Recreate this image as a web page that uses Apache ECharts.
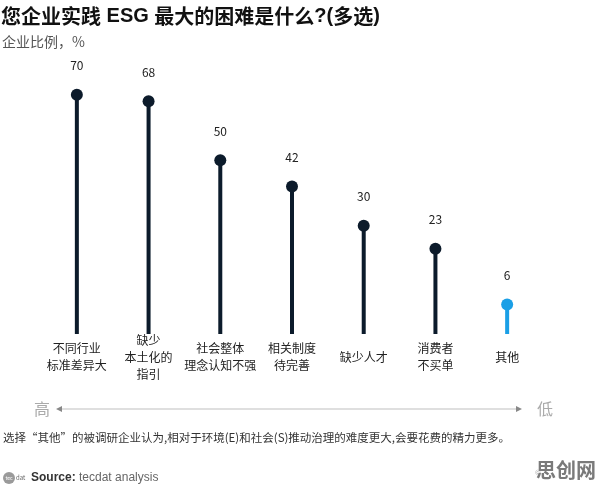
<!DOCTYPE html>
<html><head><meta charset="utf-8">
<script src="https://cdn.jsdelivr.net/npm/echarts@6/dist/echarts.min.js"></script>
<style>html,body{margin:0;padding:0;background:#fff}#c{width:596px;height:487px}</style>
</head><body><div id="c"></div>
<script>
var categories = ['不同行业\n标准差异大', '缺少\n本土化的\n指引', '社会整体\n理念认知不强', '相关制度\n待完善', '缺少人才', '消费者\n不买单', '其他'];
var values = [70, 68, 50, 42, 30, 23, 6];
var highlightIndex = 6;

var dark = '#0c1b2b', blue = '#1a9fe6';
var FONT = '"Noto Sans CJK SC","Liberation Sans",Arial,sans-serif';
var LAT = '"Liberation Sans",Arial,sans-serif';
var chart = echarts.init(document.getElementById('c'));
var AXIS_MIN = -3;

chart.setOption({
  backgroundColor: '#fff',
  animation: false,
  grid: {left: 41, right: 53, top: 3, bottom: 153},
  xAxis: {
    type: 'category', data: categories,
    axisLine: {show: false}, axisTick: {show: false},
    axisLabel: {fontFamily: FONT, fontSize: 12, color: '#222', lineHeight: 17, margin: 23,
      verticalAlign: 'middle', interval: 0}
  },
  yAxis: {type: 'value', min: AXIS_MIN, max: 98, show: false, splitLine: {show: false}},
  series: [
    {
      type: 'custom',
      data: values.map(function (v, i) { return [i, v]; }),
      renderItem: function (params, api) {
        var i = api.value(0), v = api.value(1);
        var top = api.coord([i, v]);
        var bot = api.coord([i, AXIS_MIN]);
        return {type: 'line', shape: {x1: top[0], y1: top[1], x2: bot[0], y2: bot[1]},
          style: {stroke: i === highlightIndex ? blue : dark, lineWidth: 4}};
      },
      z: 1
    },
    {
      type: 'scatter',
      symbolSize: 12,
      data: values.map(function (v, i) {
        return {value: v, itemStyle: {color: i === highlightIndex ? blue : dark, opacity: 1}};
      }),
      itemStyle: {opacity: 1},
      label: {show: true, position: 'top', distance: 17, fontFamily: FONT, fontSize: 12, color: '#222'},
      z: 2
    }
  ],
  graphic: [
    {type: 'text', left: 1, top: 6, style: {
      rich: {c: {font: 'bold 20px ' + FONT, fill: '#111'}, l: {font: 'bold 20px ' + LAT, fill: '#111'}},
      text: '{c|您企业实践}{l| ESG }{c|最大的困难是什么}{l|?(}{c|多选}{l|)}'}},
    {type: 'text', left: 2, top: 35, style: {text: '企业比例，%', font: '14px ' + FONT, fill: '#555'}},
    {type: 'line', shape: {x1: 60, y1: 409, x2: 518, y2: 409}, style: {stroke: '#d4d4d4', lineWidth: 1.5}},
    {type: 'polygon', shape: {points: [[56, 409], [62, 406], [62, 412]]}, style: {fill: '#888'}},
    {type: 'polygon', shape: {points: [[522, 409], [516, 406], [516, 412]]}, style: {fill: '#888'}},
    {type: 'text', x: 42, y: 409, style: {text: '高', font: '16px ' + FONT, fill: '#aaa', align: 'center', verticalAlign: 'middle'}},
    {type: 'text', x: 545, y: 409, style: {text: '低', font: '16px ' + FONT, fill: '#aaa', align: 'center', verticalAlign: 'middle'}},
    {type: 'text', left: 3, top: 432, style: {text: '选择“其他”的被调研企业认为,相对于环境(E)和社会(S)推动治理的难度更大,会要花费的精力更多。', font: '11.5px ' + FONT, fill: '#333'}},
    {type: 'circle', shape: {cx: 9, cy: 478, r: 6}, style: {fill: '#9a9a9a'}},
    {type: 'text', x: 9, y: 478, style: {text: 'tec', font: '5px ' + FONT, fill: '#fff', align: 'center', verticalAlign: 'middle'}},
    {type: 'text', x: 16, y: 478, style: {text: 'dat', font: '6px ' + FONT, fill: '#666', verticalAlign: 'middle'}},
    {type: 'text', x: 31, y: 478, style: {rich: {b: {font: 'bold 12px ' + LAT, fill: '#333'}, n: {font: '12px ' + LAT, fill: '#666'}}, text: '{b|Source:} {n|tecdat analysis}', verticalAlign: 'middle'}},
    {type: 'text', x: 535, y: 472, style: {text: '©', font: '7px ' + FONT, fill: '#aaa', verticalAlign: 'middle'}},
    {type: 'text', x: 596, y: 470, style: {text: '思创网', font: 'bold 20px ' + FONT, fill: '#7a7a7a', align: 'right', verticalAlign: 'middle'}}
  ]
});
</script></body></html>
